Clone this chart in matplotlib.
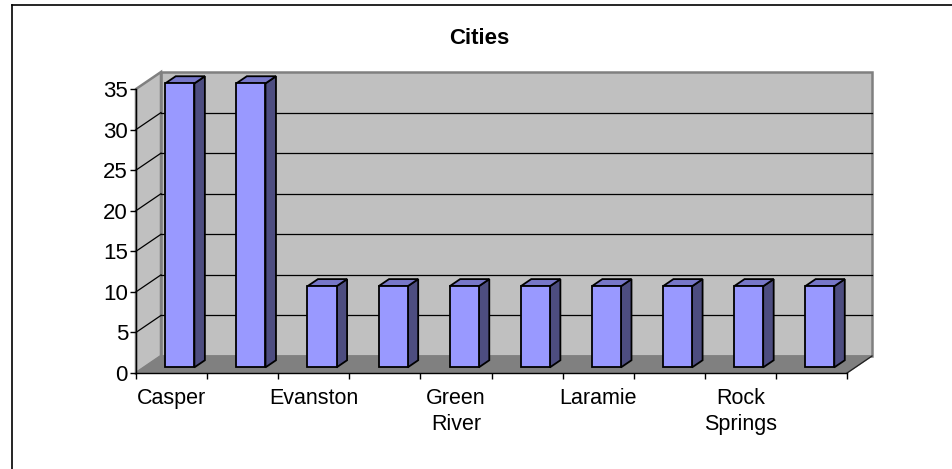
import matplotlib
matplotlib.use("Agg")
import matplotlib.pyplot as plt
from matplotlib.patches import Polygon
from matplotlib.lines import Line2D

plt.rcParams['font.family'] = ['Liberation Sans', 'DejaVu Sans']

# ---- data ----
cities = ["Casper", "Cheyenne", "Evanston", "Gillette", "Green\nRiver",
          "Jackson", "Laramie", "Riverton", "Rock\nSprings", "Sheridan"]
values = [35, 35, 10, 10, 10, 10, 10, 10, 10, 10]
yticks = [0, 5, 10, 15, 20, 25, 30, 35]
title = "Cities"

W, H = 953, 469
fig = plt.figure(figsize=(W / 100, H / 100), dpi=100)
fig.patch.set_facecolor('white')

# axes positioned so the front plane maps category 0..10, value 0..35
left_px, right_px, bottom_px, top_px = 136, 847, 373, 89
ax = fig.add_axes([left_px / W, 1 - bottom_px / H,
                   (right_px - left_px) / W, (bottom_px - top_px) / H])
n = len(values)
ymax = max(yticks)
ax.set_xlim(0, n)
ax.set_ylim(0, ymax)
ax.patch.set_visible(False)

# oblique depth offset in data units
DX = 25 / ((right_px - left_px) / n)
DY = 17 / ((bottom_px - top_px) / ymax)

wall_c = '#c0c0c0'
floor_c = '#808080'
edge_c = '#808080'

# back wall
ax.add_patch(Polygon([(DX, DY), (n + DX, DY), (n + DX, ymax + DY), (DX, ymax + DY)],
                     closed=True, facecolor=wall_c, edgecolor=edge_c, lw=1.8,
                     clip_on=False, zorder=0))
# side wall
ax.add_patch(Polygon([(0, 0), (DX, DY), (DX, ymax + DY), (0, ymax)],
                     closed=True, facecolor=wall_c, edgecolor=edge_c, lw=1.8,
                     clip_on=False, zorder=0))
# floor
ax.add_patch(Polygon([(0, 0), (n, 0), (n + DX, DY), (DX, DY)],
                     closed=True, facecolor=floor_c, edgecolor=floor_c, lw=1,
                     clip_on=False, zorder=0.5))

# gridlines
for v in yticks[1:-1]:
    ax.add_line(Line2D([DX, n + DX], [v + DY, v + DY], color='black', lw=0.9,
                       clip_on=False, zorder=1))
    ax.add_line(Line2D([0, DX], [v, v + DY], color='black', lw=0.9,
                       clip_on=False, zorder=1))

# floor right edge
ax.add_line(Line2D([n, n + DX], [0, DY], color='#202020', lw=0.9,
                   clip_on=False, zorder=1))

# bars
front_c = '#9999ff'
side_c = '#4d4d80'
top_c = '#7777c8'
x_off0, x_off1 = 0.295, 0.705
d0, d1 = 0.33, 0.75
for i, v in enumerate(values):
    x0, x1 = i + x_off0, i + x_off1
    fx0, fx1 = x0 + d0 * DX, x1 + d0 * DX
    bx0, bx1 = x0 + d1 * DX, x1 + d1 * DX
    fy, by = d0 * DY, d1 * DY
    kw = dict(closed=True, edgecolor='black', lw=1.3, clip_on=False,
              joinstyle='miter', zorder=3)
    ax.add_patch(Polygon([(fx1, fy), (bx1, by), (bx1, v + by), (fx1, v + fy)],
                         facecolor=side_c, **kw))
    ax.add_patch(Polygon([(fx0, v + fy), (fx1, v + fy), (bx1, v + by), (bx0, v + by)],
                         facecolor=top_c, **kw))
    ax.add_patch(Polygon([(fx0, fy), (fx1, fy), (fx1, v + fy), (fx0, v + fy)],
                         facecolor=front_c, **kw))

# axes spines & ticks
for s in ['top', 'right']:
    ax.spines[s].set_visible(False)
for s in ['left', 'bottom']:
    ax.spines[s].set_color('black')
    ax.spines[s].set_linewidth(1.0)
    ax.spines[s].set_zorder(2)

ax.set_yticks(yticks)
ax.set_yticklabels([str(t) for t in yticks])
ax.tick_params(axis='y', direction='out', length=4.3, width=1.0, pad=1.5,
               labelsize=16, colors='black')

ax.set_xticks(range(n + 1))
ax.set_xticklabels([])
ax.tick_params(axis='x', which='major', direction='out', length=4.3, width=1.0)
ax.set_xticks([i + 0.5 for i in range(n)], minor=True)
ax.set_xticklabels([c if i % 2 == 0 else '' for i, c in enumerate(cities)],
                   minor=True, linespacing=1.3)
ax.tick_params(axis='x', which='minor', length=0, pad=11, labelsize=15.5)

fig.text(479 / W, 1 - 38 / H, title, ha='center', va='center',
         fontsize=16, fontweight='bold')

# chart-area border (top and left)
fig.add_artist(Line2D([12 / W, 1], [1 - 5 / H, 1 - 5 / H],
                      transform=fig.transFigure, color='black', lw=1.2))
fig.add_artist(Line2D([12 / W, 12 / W], [0, 1 - 5 / H],
                      transform=fig.transFigure, color='black', lw=1.2))

fig.savefig('out.png', dpi=100)
